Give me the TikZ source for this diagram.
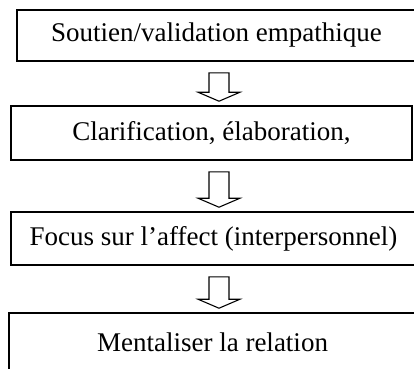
\documentclass[tikz,border=0pt]{standalone}
\usepackage{fontspec}
\setmainfont{Liberation Serif}
\usetikzlibrary{calc}
\begin{document}
\begin{tikzpicture}[x=1pt,y=-1pt,
  stagebox/.style={draw=black, line width=1.6pt, fill=white, inner sep=0pt,
    font=\fontsize{27}{30}\selectfont, anchor=center},
  blockarrow/.style={draw=black, line width=1.1pt, fill=white, line join=miter}]
  % page frame (also clips the boxes that run past the edges)
  \clip (0,0) rectangle (414,368);
  \fill[white] (0,0) rectangle (414,368);

  % the four stages
  \node[stagebox, minimum width=399pt, minimum height=51pt] (b1) at (216.5,35.5)
    {Soutien/validation empathique};
  \node[stagebox, minimum width=401pt, minimum height=54pt] (b2) at (211.5,133)
    {Clarification, élaboration,};
  \node[stagebox, minimum width=405pt, minimum height=53pt] (b3) at (213.5,238.5)
    {Focus sur l’affect (interpersonnel)};
  \node[stagebox, minimum width=407pt, minimum height=59pt] (b4) at (212.5,342.5)
    {Mentaliser la relation};

  % vertical axis of the arrows
  \coordinate (axis) at (219,0);

  % hollow block arrows between consecutive stages
  \foreach \from/\to in {b1/b2, b2/b3, b3/b4}{
    \coordinate (start) at ($(\from.south -| axis)+(0,11)$);
    \coordinate (tip) at ($(\to.north -| axis)+(0,-4)$);
    \draw[blockarrow]
      ($(start)+(-10,0)$) -- ($(start)+(10,0)$) -- ($(tip)+(10,-9)$)
      -- ($(tip)+(21,-9)$) -- (tip) -- ($(tip)+(-21,-9)$)
      -- ($(tip)+(-10,-9)$) -- cycle;
  }
\end{tikzpicture}
\end{document}
